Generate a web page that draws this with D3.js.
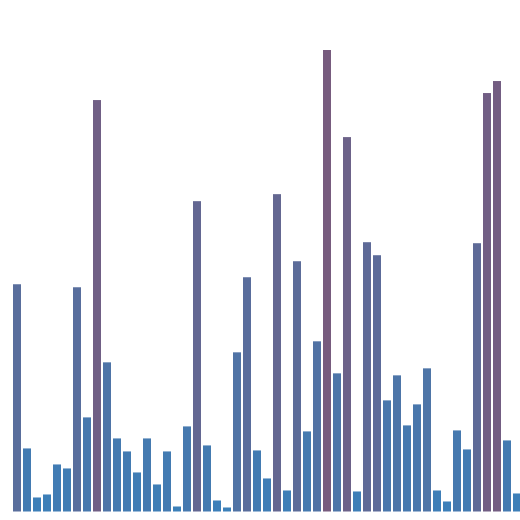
<!DOCTYPE html>
<html>
<head>
<meta charset="utf-8">
<script src="https://cdn.jsdelivr.net/npm/d3@7"></script>
<style>
  body { margin: 0; background: #fff; }
  svg { display: block; }
</style>
</head>
<body>
<div class="chart"></div>
<script>
// one value per bar
var values = [227, 63, 14, 17, 47, 43, 224, 94, 411, 149, 73, 60, 39, 73, 27, 60, 5,
    85, 310, 66, 11, 4, 159, 234, 61, 33, 317, 21, 250, 80, 170, 461, 138, 374, 20,
    269, 256, 111, 136, 86, 107, 143, 21, 10, 81, 62, 268, 418, 430, 71, 18];
var colorStops = ["#3b80ba", "#775b7e"];

var width = 520, height = 520;

var svg = d3.select(".chart").append("svg")
    .attr("width", width)
    .attr("height", height);

var x = d3.scaleBand()
    .domain(d3.range(values.length))
    .range([12, 522])
    .paddingInner(0.2)
    .paddingOuter(0.1);

var y = d3.scaleLinear()
    .domain([0, d3.max(values)])
    .range([511.5, 50]);

var color = d3.scaleLinear()
    .domain([0, d3.max(values)])
    .range(colorStops);

svg.selectAll("rect")
    .data(values)
    .enter().append("rect")
    .attr("x", function (d, i) { return x(i); })
    .attr("y", function (d) { return y(d); })
    .attr("width", x.bandwidth())
    .attr("height", function (d) { return y(0) - y(d); })
    .style("fill", function (d) { return color(d); });
</script>
</body>
</html>
